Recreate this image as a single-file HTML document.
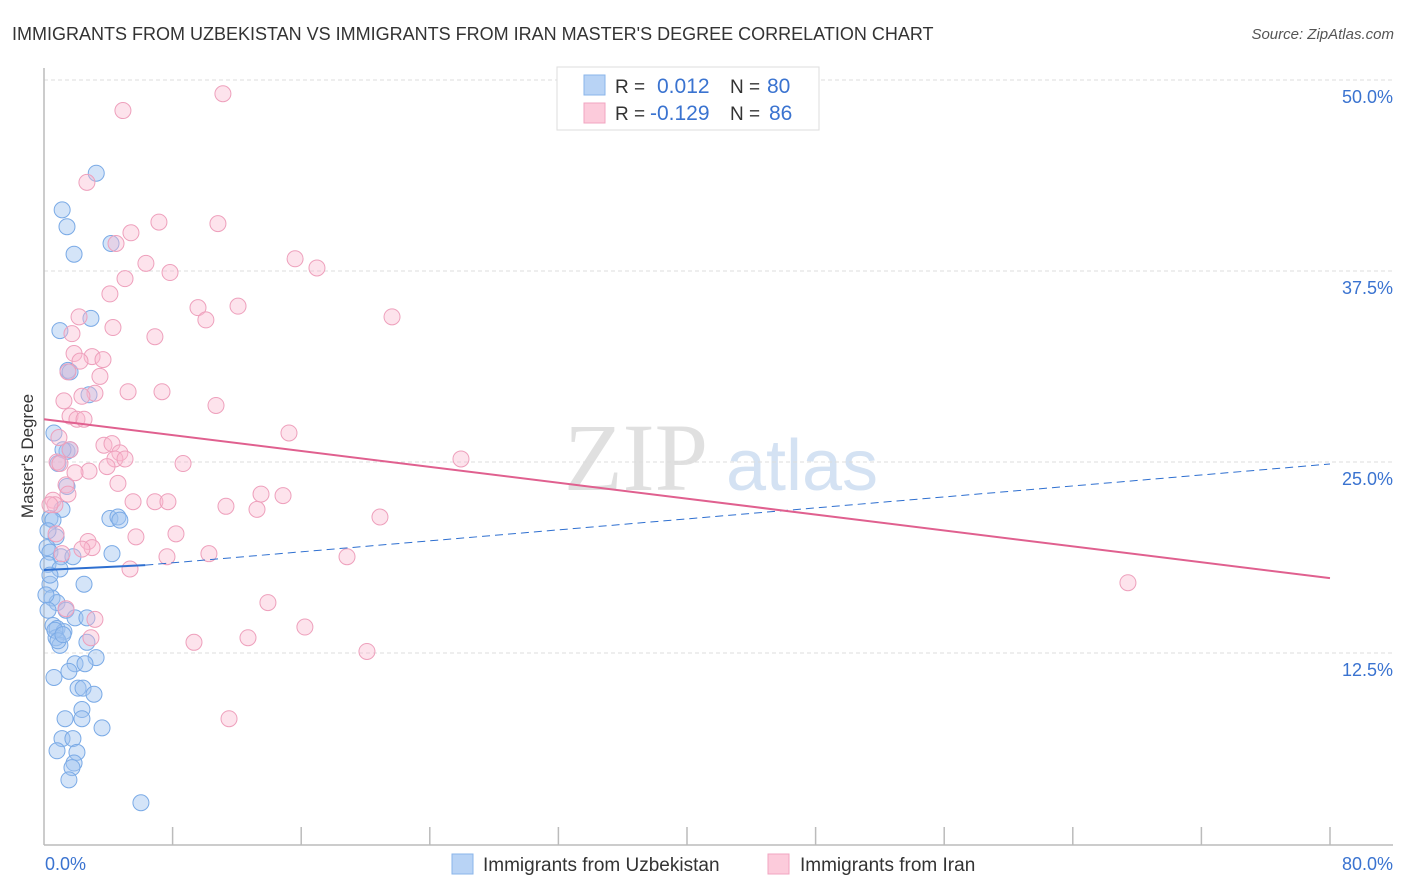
<!DOCTYPE html>
<html><head><meta charset="utf-8"><style>
body{margin:0;background:#fff;font-family:"Liberation Sans",sans-serif;}
svg{display:block}
</style></head><body>
<svg id="chart" width="1406" height="892" xmlns="http://www.w3.org/2000/svg" font-family="Liberation Sans, sans-serif">
<text x="12" y="40" font-size="18" fill="#333">IMMIGRANTS FROM UZBEKISTAN VS IMMIGRANTS FROM IRAN MASTER'S DEGREE CORRELATION CHART</text>
<text x="1394" y="39" font-size="15" fill="#555" font-style="italic" text-anchor="end">Source: ZipAtlas.com</text>
<text transform="translate(33,456) rotate(-90)" font-size="17" fill="#333" text-anchor="middle">Master's Degree</text>
<g font-size="96" text-anchor="middle"><text x="636" y="490" fill="#e0e0e0" font-family="Liberation Serif, serif">ZIP</text><text x="802" y="490" fill="#d4e2f3" font-size="72">atlas</text></g>
<g id="grid"></g><g id="axes"></g><g id="pts"></g><g id="trend"></g>
<g>
<rect x="557" y="67" width="262" height="63" fill="#fff" stroke="#ddd"/>
<rect x="584" y="75" width="21" height="20" fill="#b8d3f5" stroke="#8ab4ea"/>
<rect x="584" y="103" width="21" height="20" fill="#fccbdb" stroke="#f2a5c0"/>
<text x="615" y="93" font-size="19" fill="#333">R =</text><text x="657" y="93" font-size="21" fill="#3a73d0">0.012</text>
<text x="730" y="93" font-size="19" fill="#333">N =</text><text x="767" y="93" font-size="21" fill="#3a73d0">80</text>
<text x="615" y="120" font-size="19" fill="#333">R =</text><text x="650" y="120" font-size="21" fill="#3a73d0">-0.129</text>
<text x="730" y="120" font-size="19" fill="#333">N =</text><text x="769" y="120" font-size="21" fill="#3a73d0">86</text>
</g>
<g>
<rect x="452" y="854" width="21" height="20" fill="#b8d3f5" stroke="#8ab4ea"/>
<text x="483" y="871" font-size="19" fill="#333">Immigrants from Uzbekistan</text>
<rect x="768" y="854" width="21" height="20" fill="#fccbdb" stroke="#f2a5c0"/>
<text x="800" y="871" font-size="19" fill="#333">Immigrants from Iran</text>
</g>
</svg>
<script>
const yTicks=[12.5,25,37.5,50];
const yTickLabels=["12.5%","25.0%","37.5%","50.0%"];
const xTicks=[0,8,16,24,32,40,48,56,64,72,80];
const xEndLabels=["0.0%","80.0%"];
const uzX=[3.25,1.13,1.43,1.87,4.17,0.99,2.92,1.49,1.62,2.8,0.62,1.43,1.62,1.18,0.87,1.43,1.12,0.37,0.56,0.75,4.1,4.6,4.72,0.19,0.37,1.06,1.8,4.23,0.25,0.99,2.49,0.37,0.5,0.81,1.37,1.93,2.67,0.56,0.81,1.24,0.75,0.99,2.67,3.24,1.93,1.55,2.55,0.62,2.12,2.43,3.11,2.36,2.36,1.31,3.61,1.12,1.8,2.05,0.81,1.87,1.74,1.55,6.03,0.12,0.25,0.37,0.68,0.87,1.18,0.25];
const uzY=[43.9,41.5,40.4,38.6,39.3,33.6,34.4,31.0,30.9,29.4,26.9,25.7,25.8,25.8,24.9,23.4,21.9,21.3,21.2,20.1,21.3,21.4,21.2,19.4,19.1,18.8,18.8,19.0,18.3,18.0,17.0,17.0,16.1,15.8,15.3,14.8,14.8,14.3,14.1,13.9,13.5,13.0,13.2,12.2,11.8,11.3,11.8,10.9,10.2,10.2,9.8,8.8,8.2,8.2,7.6,6.9,6.9,6.0,6.1,5.3,5.0,4.2,2.7,16.3,15.3,17.6,13.99,13.3,13.7,20.5];
const irX=[11.13,4.91,2.67,7.15,10.82,5.41,4.48,6.34,7.84,15.62,16.98,5.04,4.1,9.58,12.07,10.07,21.65,2.18,4.29,6.9,1.74,1.87,2.99,3.67,2.24,1.49,3.48,5.23,7.34,3.17,2.36,1.24,10.7,1.62,2.05,2.49,15.24,0.93,3.73,4.23,1.62,4.72,4.41,5.04,0.81,0.99,8.65,25.94,3.92,2.8,4.6,1.37,13.5,14.87,6.9,7.71,5.54,11.32,13.25,20.9,0.56,0.68,8.21,5.72,2.74,2.99,2.36,10.26,7.65,18.85,5.35,67.43,13.93,1.37,3.17,16.23,12.69,2.92,9.33,20.09,11.51,0.37,0.75,1.12,1.93,1.49];
const irY=[49.1,48.0,43.3,40.7,40.6,40.0,39.3,38.0,37.4,38.3,37.7,37.0,36.0,35.1,35.2,34.3,34.5,34.5,33.8,33.2,33.4,32.1,31.9,31.7,31.6,30.9,30.6,29.6,29.6,29.5,29.3,29.0,28.7,28.0,27.8,27.8,26.9,26.6,26.1,26.2,25.8,25.6,25.2,25.2,25.0,24.9,24.9,25.2,24.7,24.4,23.6,23.5,22.9,22.8,22.4,22.4,22.4,22.1,21.9,21.4,22.5,22.2,20.3,20.1,19.8,19.4,19.3,19.0,18.8,18.8,18.0,17.1,15.8,15.4,14.7,14.2,13.5,13.5,13.2,12.6,8.2,22.2,20.3,19.0,24.3,22.9];
const uzTrend=[17.93,18.25,24.87]; // at x=0, x=6.3 (solid end), x=80
const uzTrendX=[0,6.3,80];
const irTrend=[27.8,17.4];
const irTrendX=[0,80];
const X0=44,X1=1330,Y0=844,Y50=80;
const xs=v=>X0+(X1-X0)*v/80;
const ys=v=>Y0-(Y0-Y50)*v/50;
const NS="http://www.w3.org/2000/svg";
function mk(tag,attrs,parent){const e=document.createElementNS(NS,tag);for(const k in attrs)e.setAttribute(k,attrs[k]);document.getElementById(parent).appendChild(e);return e;}
yTicks.forEach((t,i)=>{
  const l=mk('line',{x1:X0,x2:1393,y1:ys(t),y2:ys(t),stroke:'#ddd','stroke-dasharray':'4,3'},'grid');
  
  
  const tx=mk('text',{x:1393,y:ys(t)+23,'font-size':18,fill:'#3a73d0','text-anchor':'end'},'grid');
  tx.textContent=yTickLabels[i];
  
  
});
const ax=mk('line',{x1:X0,x2:X0,y1:68,y2:845,stroke:'#bbb','stroke-width':1.5},'axes');


const bx=mk('line',{x1:X0,x2:1393,y1:845,y2:845,stroke:'#bbb','stroke-width':1.5},'axes');


xTicks.forEach(t=>{if(t===0)return;
  const l=mk('line',{x1:xs(t),x2:xs(t),y1:827,y2:845,stroke:'#bbb','stroke-width':1.5},'axes');
  
  
});
[[0,'start',45],[80,'end',1393]].forEach((d,i)=>{
  const t=mk('text',{x:d[2],y:870,'font-size':18,fill:'#3a73d0','text-anchor':d[1]},'axes');
  t.textContent=xEndLabels[i];
  
  
});
uzX.forEach((v,i)=>{
  const c=mk('circle',{cx:xs(v),cy:ys(uzY[i]),r:8,fill:'rgba(160,195,240,0.45)',stroke:'#7aaae6','stroke-width':1},'pts');
  
  
});
irX.forEach((v,i)=>{
  const c=mk('circle',{cx:xs(v),cy:ys(irY[i]),r:8,fill:'rgba(250,185,208,0.4)',stroke:'#eea0bc','stroke-width':1},'pts');
  
  
});
const l1=mk('line',{x1:xs(uzTrendX[0]),y1:ys(uzTrend[0]),x2:xs(uzTrendX[1]),y2:ys(uzTrend[1]),stroke:'#2e6fd0','stroke-width':2},'trend');


const l2=mk('line',{x1:xs(uzTrendX[1]),y1:ys(uzTrend[1]),x2:xs(uzTrendX[2]),y2:ys(uzTrend[2]),stroke:'#2e6fd0','stroke-width':1,'stroke-dasharray':'8,5'},'trend');


const l3=mk('line',{x1:xs(irTrendX[0]),y1:ys(irTrend[0]),x2:xs(irTrendX[1]),y2:ys(irTrend[1]),stroke:'#e0608f','stroke-width':2},'trend');


</script>
</body></html>
